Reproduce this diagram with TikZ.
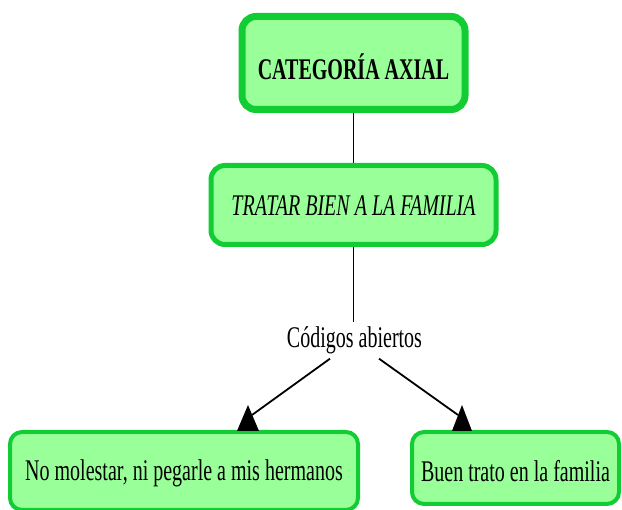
\documentclass[tikz,border=0pt]{standalone}
\usepackage{fontspec}
\setmainfont{Liberation Serif}[FakeStretch=0.667]
\usetikzlibrary{backgrounds}
\definecolor{boxfill}{RGB}{153,255,153}
\definecolor{boxline}{RGB}{17,204,51}
\tikzset{
  box/.style={draw=boxline, fill=boxfill, rounded corners=14pt, inner sep=0pt,
    font=\fontsize{30}{36}\selectfont},
  conn/.style={draw=black, line width=1.8pt},
  vline/.style={draw=black, line width=1.3pt},
  tip/.style={fill=black},
  lbl/.style={inner sep=0pt, font=\fontsize{30}{36}\selectfont}
}
\begin{document}
\begin{tikzpicture}[x=1pt,y=1pt]
\useasboundingbox (0,0) rectangle (622,510);
\clip (0,0) rectangle (622,510);
\node[box, line width=7pt, minimum width=223pt, minimum height=93pt,
  text height=36pt, text depth=2pt] (top) at (353.5,447) {\bfseries CATEGORÍA AXIAL};
\node[box, line width=5pt, minimum width=285pt, minimum height=79pt,
  text height=24pt, text depth=2pt] (mid) at (353.5,305) {\itshape TRATAR BIEN A LA FAMILIA};
\node[lbl, anchor=base] (lab) at (354.5,162) {Códigos abiertos};
\node[box, line width=4pt, minimum width=348pt, minimum height=78pt, rounded corners=12pt,
  text height=22pt, text depth=2pt] (left) at (184,39) {No molestar, ni pegarle a mis hermanos};
\node[box, line width=4pt, minimum width=207pt, minimum height=72pt, rounded corners=12pt,
  text height=30pt, text depth=2pt] (right) at (515.5,42) {Buen trato en la familia};
\coordinate (aL) at (248,105);
\coordinate (aR) at (462,105);
\coordinate (eL) at (252,95);
\coordinate (eR) at (458,95);
\begin{scope}[on background layer]
\draw[vline] (top.south) -- (mid.north);
\draw[vline] (mid.south) -- ([yshift=4.5pt]mid.south |- lab.north);
\end{scope}
\fill[tip] (aL) -- ++(-11,-26) -- ++(22,0) -- cycle;
\fill[tip] (aR) -- ++(-10,-26) -- ++(20,0) -- cycle;
\draw[conn] ([xshift=-24.5pt,yshift=-4pt]lab.south) -- (eL);
\draw[conn] ([xshift=24.5pt,yshift=-4pt]lab.south) -- (eR);
\end{tikzpicture}
\end{document}
